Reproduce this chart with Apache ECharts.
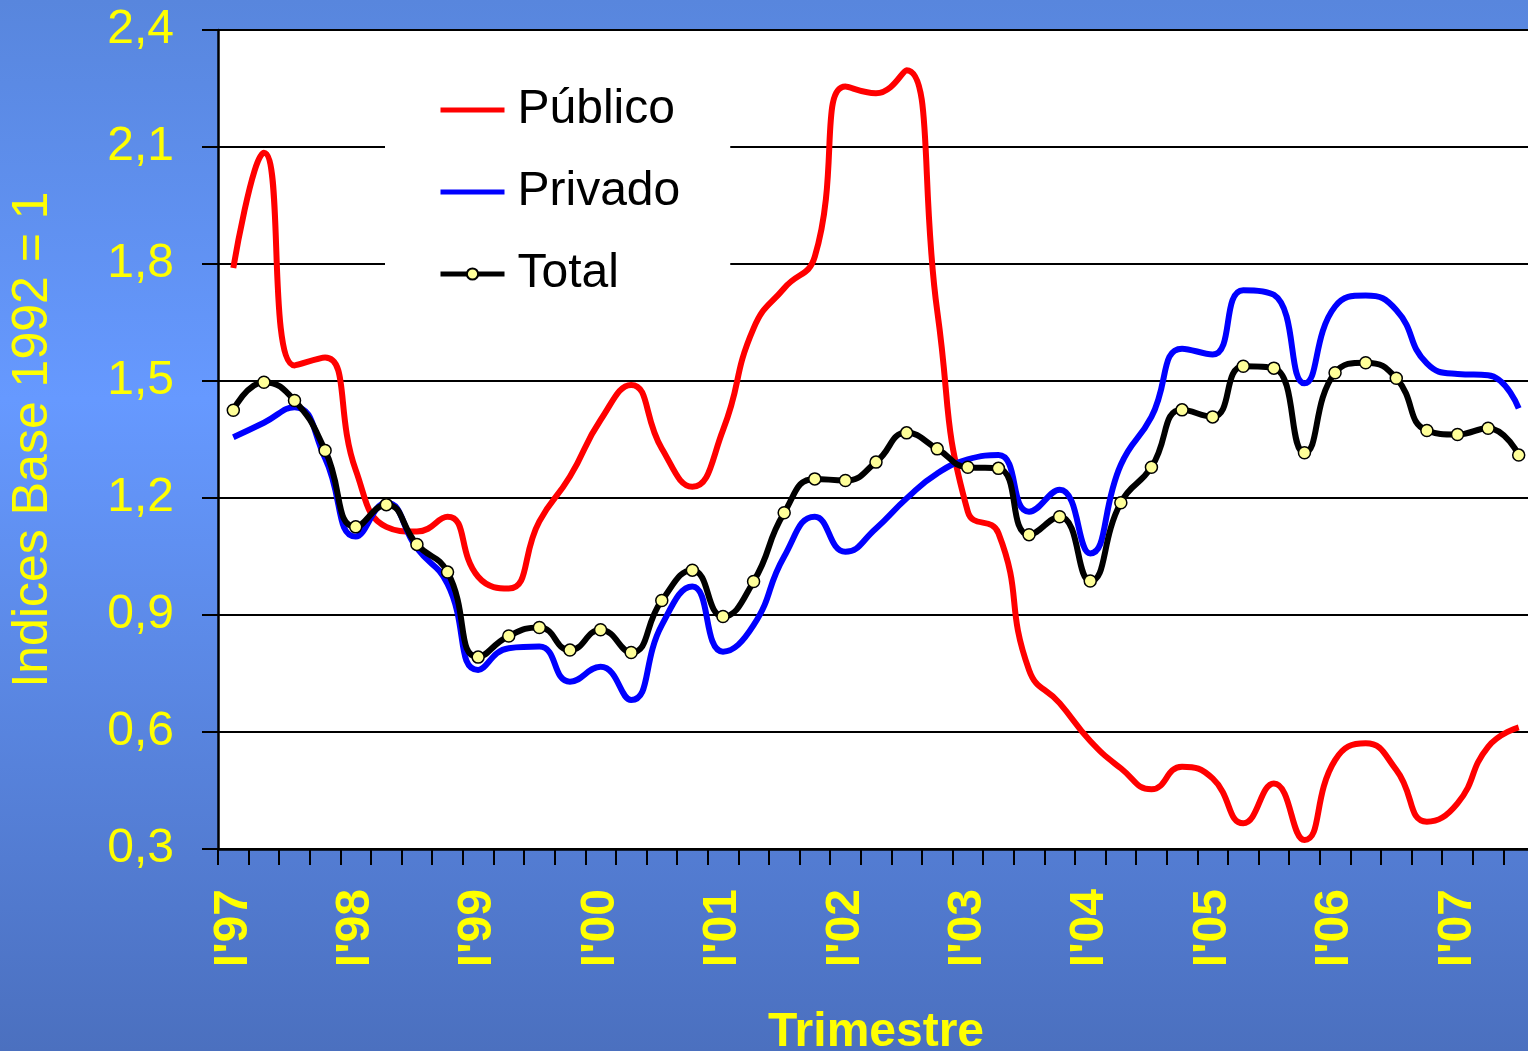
<!DOCTYPE html>
<html>
<head>
<meta charset="utf-8">
<title>Indices Base 1992 = 1</title>
<script src="https://cdn.jsdelivr.net/npm/echarts@6/dist/echarts.min.js"></script>
<style>
  html, body { margin: 0; padding: 0; }
  #chart { width: 1528px; height: 1051px; }
</style>
</head>
<body>
<div id="chart"></div>
<script>
// quarters 1997 I .. 2007 III
const quarters = [];
const years = ['97', '98', '99', '00', '01', '02', '03', '04', '05', '06', '07'];
const romans = ['I', 'II', 'III', 'IV'];
for (let y of years) {
  for (let q of romans) {
    if (quarters.length < 43) quarters.push(q + "'" + y);
  }
}

const publico = [1.79, 2.085, 1.54, 1.56, 1.272, 1.126, 1.114, 1.152, 0.998, 0.968, 1.14,
  1.255, 1.40, 1.49, 1.327, 1.229, 1.374, 1.635, 1.738, 1.819, 2.255, 2.238, 2.297,
  1.68, 1.165, 1.11, 0.759, 0.674, 0.577, 0.507, 0.453, 0.511, 0.481, 0.366, 0.468,
  0.323, 0.528, 0.571, 0.503, 0.37, 0.417, 0.562, 0.612];

const privado = [1.356, 1.393, 1.433, 1.302, 1.101, 1.188, 1.071, 0.98, 0.759, 0.815, 0.819,
  0.729, 0.767, 0.682, 0.874, 0.973, 0.806, 0.874, 1.05, 1.152, 1.062, 1.122, 1.199,
  1.263, 1.299, 1.31, 1.165, 1.221, 1.058, 1.285, 1.408, 1.583, 1.568, 1.733, 1.721,
  1.494, 1.691, 1.719, 1.682, 1.545, 1.518, 1.515, 1.43];

const total = [1.425, 1.497, 1.450, 1.322, 1.126, 1.183, 1.081, 1.010, 0.792, 0.846, 0.868,
  0.810, 0.862, 0.804, 0.937, 1.015, 0.896, 0.986, 1.162, 1.249, 1.245, 1.292, 1.367,
  1.326, 1.279, 1.276, 1.106, 1.152, 0.987, 1.188, 1.279, 1.426, 1.408, 1.538, 1.533,
  1.316, 1.521, 1.547, 1.507, 1.373, 1.363, 1.379, 1.310];

const yTicks = { min: 0.3, max: 2.4, step: 0.3 };

const font = 'Liberation Sans, Arial, sans-serif';
const yellow = '#ffff00';
const noDot = { color: 'rgba(0,0,0,0)', borderWidth: 0 };

let myChart = echarts.init(document.getElementById('chart'));
myChart.setOption({
  animation: false,
  backgroundColor: {
    type: 'linear', x: 0, y: 0, x2: 0, y2: 1,
    colorStops: [
      { offset: 0, color: '#5886dd' },
      { offset: 0.38, color: '#6699ff' },
      { offset: 1, color: '#4b70bf' }
    ]
  },
  grid: {
    left: 218, top: 30, width: 1316, height: 819,
    outerBoundsMode: 'none',
    containLabel: false,
    show: true, backgroundColor: '#ffffff', borderWidth: 0
  },
  legend: {
    orient: 'vertical',
    left: 385, top: 70,
    padding: [16, 50, 12, 53],
    backgroundColor: '#ffffff',
    itemWidth: 64, itemHeight: 14,
    itemGap: 34,
    lineStyle: { width: 5 },
    textStyle: { fontSize: 48, color: '#000', fontFamily: font, padding: [0, 0, 0, 8] },
    data: [
      { name: 'Público', itemStyle: noDot },
      { name: 'Privado', itemStyle: noDot },
      { name: 'Total' }
    ]
  },
  xAxis: {
    type: 'category',
    data: quarters,
    boundaryGap: true,
    name: 'Trimestre',
    nameLocation: 'middle',
    nameGap: 160,
    nameTextStyle: { color: yellow, fontSize: 48, fontWeight: 'bold', fontFamily: font },
    axisLine: { lineStyle: { color: '#000', width: 2.5 } },
    axisTick: { show: true, interval: 0, length: 16, lineStyle: { color: '#000', width: 2 } },
    axisLabel: {
      interval: 3,
      rotate: 90,
      margin: 40,
      color: yellow,
      fontSize: 48,
      fontWeight: 'bold',
      fontFamily: font
    },
    splitLine: { show: false }
  },
  yAxis: {
    type: 'value',
    min: yTicks.min, max: yTicks.max, interval: yTicks.step,
    name: 'Indices Base 1992 = 1',
    nameLocation: 'middle',
    nameRotate: 90,
    nameGap: 160,
    nameTextStyle: { color: yellow, fontSize: 50, fontFamily: font },
    axisLine: { show: true, lineStyle: { color: '#000', width: 2.5 } },
    axisTick: { show: true, length: 16, lineStyle: { color: '#000', width: 2 } },
    axisLabel: {
      margin: 44,
      color: yellow,
      fontSize: 48,
      fontFamily: font,
      formatter: function (v) { return v.toFixed(1).replace('.', ','); }
    },
    splitLine: { show: true, lineStyle: { color: '#000', width: 2 } }
  },
  series: [
    {
      name: 'Público',
      type: 'line',
      data: publico,
      smooth: 0.5,
      symbol: 'none',
      lineStyle: { color: '#ff0000', width: 6 },
      itemStyle: { color: '#ff0000' },
      emphasis: { disabled: true }
    },
    {
      name: 'Privado',
      type: 'line',
      data: privado,
      smooth: 0.5,
      symbol: 'none',
      lineStyle: { color: '#0000ff', width: 6 },
      itemStyle: { color: '#0000ff' },
      emphasis: { disabled: true }
    },
    {
      name: 'Total',
      type: 'line',
      data: total,
      smooth: 0.5,
      symbol: 'circle',
      symbolSize: 12,
      showAllSymbol: true,
      lineStyle: { color: '#000', width: 6 },
      itemStyle: { color: '#ffff99', borderColor: '#000', borderWidth: 1.5 },
      emphasis: { disabled: true }
    }
  ]
});
</script>
</body>
</html>
